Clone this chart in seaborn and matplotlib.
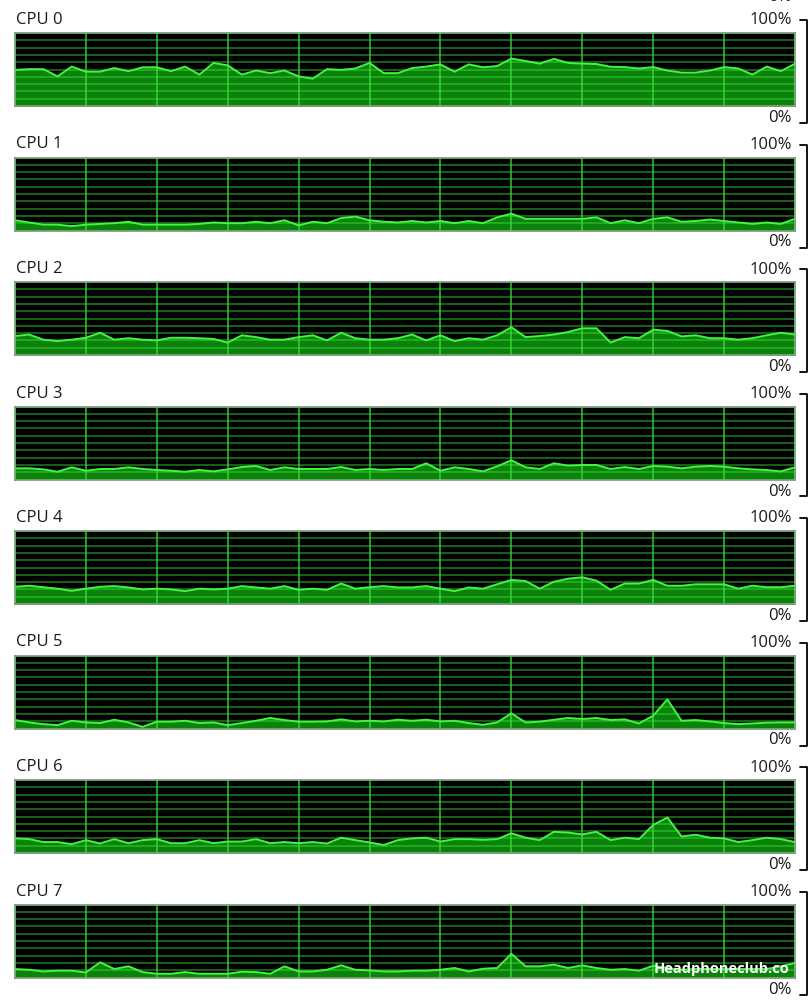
import numpy as np
import pandas as pd
import matplotlib
matplotlib.use("Agg")
import matplotlib.pyplot as plt
import seaborn as sns
from matplotlib.lines import Line2D

# ---------------- data (CPU usage %, one sample per second) ----------------
cpu_names = ["CPU 0", "CPU 1", "CPU 2", "CPU 3", "CPU 4", "CPU 5", "CPU 6", "CPU 7"]
seconds = list(range(56))

cpu0 = [49.5, 50.5, 50.5, 40.6, 54, 47, 47, 52, 47.7, 53,
        53, 47.7, 54, 43, 59, 55.6, 43, 48.6, 45, 48.6,
        40.6, 37.4, 50.5, 49.5, 51.4, 59, 45, 45, 52, 54,
        57, 47, 57, 53, 54.7, 65, 61.7, 58, 64.5, 59,
        58, 57.5, 53.7, 53.3, 51.4, 53.3, 48.6, 45.8, 45.8, 48.6,
        53.3, 51.4, 43, 54, 47.7, 58]
cpu1 = [14, 11, 8, 8, 6, 8, 9, 10, 12, 8,
        8, 8, 8, 9, 11, 10, 10, 12, 10, 14,
        7, 12, 10, 17, 19, 14, 12, 11, 13, 11,
        13, 10, 13, 10, 18, 23, 16, 16, 16, 16,
        16, 18, 10, 14, 10, 16, 18, 12, 13, 15,
        13, 11, 9, 11, 9, 16]
cpu2 = [26, 28, 21, 19, 21, 23.6, 30.5, 21, 23, 21,
        20, 23.6, 23.6, 23, 22, 17, 27, 24.5, 21, 21,
        24.5, 27, 20, 30.5, 23, 21, 21, 23, 28, 20,
        27, 19, 23, 21, 27, 38, 24.5, 26, 28, 31.5,
        36.6, 36.6, 17, 24.5, 23, 34.7, 33, 25.5, 27, 23,
        23, 21, 23, 27, 30.5, 28]
cpu3 = [15.3, 15.3, 13.9, 10.6, 16.7, 12, 14.4, 14.4, 16.7, 14.4,
        13, 12, 10.6, 13, 11.1, 13.9, 17.1, 18.5, 13, 16.7,
        14.4, 14.4, 14.4, 17.1, 13, 14.4, 13, 14.4, 14.4, 22.2,
        12, 16.7, 14.4, 11.1, 18, 26.4, 16.7, 14.4, 22.2, 19,
        19.9, 19.9, 14.4, 17.1, 14.4, 18.5, 17.6, 15.3, 17.6, 18.5,
        17.6, 15.3, 13.9, 13, 11.1, 16.7]
cpu4 = [23.6, 25, 23, 21, 18, 21, 23.6, 24.5, 22.7, 20,
        21, 20, 17.6, 21, 20, 21, 24.5, 22.7, 21, 24.5,
        19.4, 21, 19.4, 28, 21, 23, 24.5, 22.7, 22.7, 24.5,
        21, 17.6, 22.7, 21, 27, 33, 31.5, 21, 30.5, 34.7,
        36.6, 32, 19.4, 28, 28, 33, 25, 25, 27, 27,
        27, 21, 25, 23, 23, 25]
cpu5 = [11.6, 8.3, 6, 4.6, 10.6, 8.3, 7.4, 12, 8.3, 2.3,
        9.3, 9.3, 10.6, 7.4, 8.3, 4.6, 7.4, 10.6, 14.4, 11.6,
        9.3, 9.3, 9.7, 12.5, 9.7, 10.6, 9.7, 12, 10.6, 12,
        9.7, 10.6, 7.4, 5.1, 8.3, 20.8, 8.3, 9.3, 12, 14.4,
        13, 14.4, 11.6, 12.5, 6.9, 17.6, 39.8, 10.6, 11.6, 9.7,
        7.4, 6, 6.9, 7.9, 8.3, 8.3]
cpu6 = [20, 19, 15, 15, 12, 17.6, 13, 19, 13.4, 17.6,
        19, 13.4, 13.4, 17.6, 13.4, 15.7, 15.7, 19, 13.4, 15,
        13.4, 15, 13, 21, 17.6, 14.4, 11, 17.6, 20, 21,
        15.7, 19, 19, 18, 19, 27, 21, 17.6, 29, 28,
        25.5, 29, 17.6, 21, 19, 38.4, 48.6, 22.7, 25, 21,
        20, 15, 17.6, 21, 19, 15]
cpu7 = [11.6, 10.6, 8.3, 9.3, 9.3, 6.9, 20.8, 11.6, 15.3, 7.4,
        5.1, 5.1, 7.4, 5.1, 5.1, 5.1, 7.9, 7.4, 5.1, 15.3,
        8.3, 8.3, 10.6, 16.7, 10.6, 9.7, 8.3, 8.3, 9.3, 9.3,
        10.6, 13, 8.3, 12, 13, 32.4, 15.3, 15.3, 17.6, 13,
        16.7, 13, 10.6, 11.6, 9.3, 16.2, 13, 10.6, 11.6, 11.6,
        11.6, 11.6, 11.6, 11.6, 15.3, 19.9]
series = [cpu0, cpu1, cpu2, cpu3, cpu4, cpu5, cpu6, cpu7]
top_label = "100%"
bottom_label = "0%"

# ---------------- styling / layout ----------------
sns.set_theme(style="white")
plt.rcParams['font.family'] = ['Open Sans', 'DejaVu Sans']

W, H = 809, 1000
fig = plt.figure(figsize=(W / 100, H / 100), dpi=100)
fig.patch.set_facecolor("white")


def fx(px):
    return px / W


def fy(py):
    return 1 - py / H


PANEL_LEFT, PANEL_W, PANEL_H = 15, 780, 73
FIRST_TOP, STEP = 33, 124.5
TEXT_COLOR = "#1a1a1a"
FS = 12

for k, (name, vals) in enumerate(zip(cpu_names, series)):
    top = FIRST_TOP + STEP * k
    ax = fig.add_axes([fx(PANEL_LEFT), fy(top + PANEL_H), fx(PANEL_W), PANEL_H / H])
    df = pd.DataFrame({"t": seconds, "usage": vals})
    ax.set_facecolor("black")
    ax.fill_between(df["t"], 0, df["usage"], color="#0c820c", lw=0, zorder=1)
    sns.lineplot(data=df, x="t", y="usage", ax=ax, color="#42f542",
                 linewidth=1.4, zorder=3, legend=False)
    ax.set_xlim(0, 55)
    ax.set_ylim(0, 100)
    ax.set_xticks(np.arange(0, 56, 5))
    ax.set_yticks(np.arange(0, 101, 10))
    ax.tick_params(length=0, labelbottom=False, labelleft=False)
    ax.set_xlabel("")
    ax.set_ylabel("")
    ax.set_axisbelow(False)
    ax.xaxis.grid(True, color="#3be03b", alpha=0.8, linewidth=1.2)
    ax.yaxis.grid(True, color="#3be03b", alpha=0.5, linewidth=1.2)
    for s in ax.spines.values():
        s.set_color("#8a8a8a")
        s.set_linewidth(1.2)

    fig.text(fx(16), fy(top - 13), name, ha="left", va="center",
             fontsize=FS, color=TEXT_COLOR)
    fig.text(fx(792), fy(top - 12.5), top_label, ha="right", va="center",
             fontsize=FS, color=TEXT_COLOR)
    fig.text(fx(792), fy(top + 85), bottom_label, ha="right", va="center",
             fontsize=FS, color=TEXT_COLOR)
    fig.add_artist(Line2D([fx(800), fx(807), fx(807), fx(800)],
                          [fy(top - 13), fy(top - 13), fy(top + 90), fy(top + 90)],
                          transform=fig.transFigure, color="black", lw=1.3))

# partially visible "0%" belonging to the panel above the visible area
fig.text(fx(792), fy(-3), bottom_label, ha="right", va="center",
         fontsize=FS, color=TEXT_COLOR)

# watermark
fig.text(fx(654), fy(969), "Headphoneclub.co", ha="left", va="center",
         fontsize=10.5, fontweight="bold", color="white")

fig.savefig("out.png", dpi=100, facecolor="white")
